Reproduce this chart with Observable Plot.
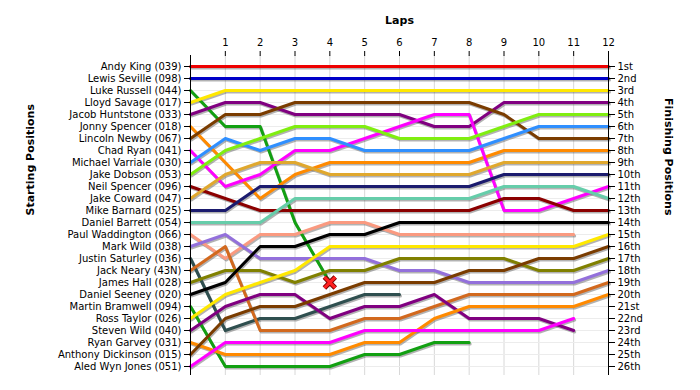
<!DOCTYPE html>
<html><head><meta charset="utf-8">
<script src="https://cdn.jsdelivr.net/npm/d3@7"></script>
<script src="https://cdn.jsdelivr.net/npm/@observablehq/plot@0.6"></script>
<style>
html,body{margin:0;padding:0;background:#fff;}
</style></head><body><div id="chart"></div>
<script>
// Drivers in starting (grid) order
const drivers = [
  "Andy King (039)", "Lewis Seville (098)", "Luke Russell (044)", "Lloyd Savage (017)",
  "Jacob Huntstone (033)", "Jonny Spencer (018)", "Lincoln Newby (067)", "Chad Ryan (041)",
  "Michael Varriale (030)", "Jake Dobson (053)", "Neil Spencer (096)", "Jake Coward (047)",
  "Mike Barnard (025)", "Daniel Barrett (054)", "Paul Waddington (066)", "Mark Wild (038)",
  "Justin Saturley (036)", "Jack Neary (43N)", "James Hall (028)", "Daniel Seeney (020)",
  "Martin Bramwell (094)", "Ross Taylor (026)", "Steven Wild (040)", "Ryan Garvey (031)",
  "Anthony Dickinson (015)", "Aled Wyn Jones (051)"
];
const lineColors = [
  "#ee0000", "#0000c8", "#12a012", "#ffe800", "#800080", "#ff8a00", "#7a3c00", "#ff00ff",
  "#2f8fff", "#80ee10", "#8b0000", "#e0a82e", "#1b1b6e", "#66cdaa", "#fa9a80", "#9370db",
  "#2f4f4f", "#d2691e", "#808000", "#000000",
  "#12a012", "#ffe800", "#800080", "#ff8a00", "#7a3c00", "#ff00ff"
];
// Position at the end of each lap (index 0 = grid)
const andyKing         = [1,1,1,1,1,1,1,1,1,1,1,1,1];
const lewisSeville     = [2,2,2,2,2,2,2,2,2,2,2,2,2];
const lukeRussell      = [3,6,6,14,19];
const lloydSavage      = [4,3,3,3,3,3,3,3,3,3,3,3,3];
const jacobHuntstone   = [5,4,4,5,5,5,5,6,6,4,4,4,4];
const jonnySpencer     = [6,9,12,10,9,9,9,9,9,8,8,8,8];
const lincolnNewby     = [7,5,5,4,4,4,4,4,4,5,7,7,7];
const chadRyan         = [8,11,10,8,8,7,6,5,5,13,13,12,11];
const michaelVarriale  = [9,7,8,7,7,8,8,8,8,7,6,6,6];
const jakeDobson       = [10,8,7,6,6,6,7,7,7,6,5,5,5];
const neilSpencer      = [11,12,13,13,13,13,13,13,13,12,12,13,13];
const jakeCoward       = [12,10,9,9,10,10,10,10,10,9,9,9,9];
const mikeBarnard      = [13,13,11,11,11,11,11,11,11,10,10,10,10];
const danielBarrett    = [14,14,14,12,12,12,12,12,12,11,11,11,12];
const paulWaddington   = [15,17,15,15,14,14,15,15,15,15,15,15];
const markWild         = [16,15,17,17,17,17,18,18,19,19,19,19,18];
const justinSaturley   = [17,23,22,22,21,20,20];
const jackNeary        = [18,16,23,23,23,22,22,21,20,20,20,20,19];
const jamesHall        = [19,18,18,19,18,18,17,17,17,17,18,18,17];
const danielSeeney     = [20,19,16,16,15,15,14,14,14,14,14,14,14];
const martinBramwell   = [21,26,26,26,26,25,25,24,24];
const rossTaylor       = [22,20,19,18,16,16,16,16,16,16,16,16,15];
const stevenWild       = [23,21,20,20,22,21,21,20,22,22,22,23];
const ryanGarvey       = [24,25,25,25,25,24,24,22,21,21,21,21,20];
const anthonyDickinson = [25,22,21,21,20,19,19,19,18,18,17,17,16];
const aledWynJones     = [26,24,24,24,24,23,23,23,23,23,23,22];

const runs = [andyKing, lewisSeville, lukeRussell, lloydSavage, jacobHuntstone, jonnySpencer,
  lincolnNewby, chadRyan, michaelVarriale, jakeDobson, neilSpencer, jakeCoward, mikeBarnard,
  danielBarrett, paulWaddington, markWild, justinSaturley, jackNeary, jamesHall, danielSeeney,
  martinBramwell, rossTaylor, stevenWild, ryanGarvey, anthonyDickinson, aledWynJones];

const crashed = ["Luke Russell (044)"];
const lapTicks = [1,2,3,4,5,6,7,8,9,10,11,12];
const finishLabels = ["1st","2nd","3rd","4th","5th","6th","7th","8th","9th","10th","11th","12th","13th",
  "14th","15th","16th","17th","18th","19th","20th","21st","22nd","23rd","24th","25th","26th"];

const rows = drivers.flatMap((name, i) => runs[i].map((pos, lap) => ({name, lap, pos})));
const positionTicks = finishLabels.map((_, i) => i + 1);
const startName = p => (rows.find(d => d.lap === 0 && d.pos === p) || {}).name;
const crashRows = crashed.map(n => rows.filter(d => d.name === n).at(-1));

const chart = Plot.plot({
  width: 700,
  height: 390,
  marginLeft: 190,
  marginRight: 92,
  marginTop: 55,
  marginBottom: 15,
  insetTop: 11,
  insetBottom: 9,
  style: {fontFamily: "DejaVu Sans, sans-serif", fontSize: "10px", background: "#fff", color: "#000"},
  x: {domain: [0, 12]},
  y: {domain: [1, 26], reverse: true},
  color: {domain: drivers, range: lineColors},
  marks: [
    Plot.gridX({ticks: lapTicks, stroke: "#d8d8d8", strokeOpacity: 1}),
    Plot.gridY({ticks: positionTicks, stroke: "#ececec", strokeOpacity: 1}),
    Plot.line(rows, {x: "lap", y: "pos", z: "name", stroke: "#555", strokeOpacity: 0.45, strokeWidth: 3, dx: 1, dy: 1.5}),
    Plot.line(rows, {x: "lap", y: "pos", z: "name", stroke: "name", strokeWidth: 3}),
    Plot.dot(crashRows, {x: "lap", y: "pos", symbol: "times", r: 5, stroke: "#700", strokeWidth: 5}),
    Plot.dot(crashRows, {x: "lap", y: "pos", symbol: "times", r: 5, stroke: "#ff2020", strokeWidth: 3}),
    Plot.ruleX([0, 12], {stroke: "#000", strokeWidth: 1}),
    Plot.axisX({anchor: "top", ticks: lapTicks, tickSize: 5, tickPadding: 5, label: null}),
    Plot.axisY({anchor: "left", ticks: positionTicks, tickFormat: startName, tickSize: 6, tickPadding: 3, label: null}),
    Plot.axisY({anchor: "right", ticks: positionTicks, tickFormat: p => finishLabels[p - 1], tickSize: 6, tickPadding: 3, label: null}),
    Plot.text(["Laps"], {text: d => d, frameAnchor: "top", dy: -39, fontWeight: "bold", fontSize: 11}),
    Plot.text(["Starting Positions"], {text: d => d, frameAnchor: "left", rotate: -90, dx: -160, fontWeight: "bold", fontSize: 11}),
    Plot.text(["Finishing Positions"], {text: d => d, frameAnchor: "right", rotate: 90, dx: 60, fontWeight: "bold", fontSize: 11})
  ]
});
document.getElementById("chart").append(chart);
</script>
</body></html>
